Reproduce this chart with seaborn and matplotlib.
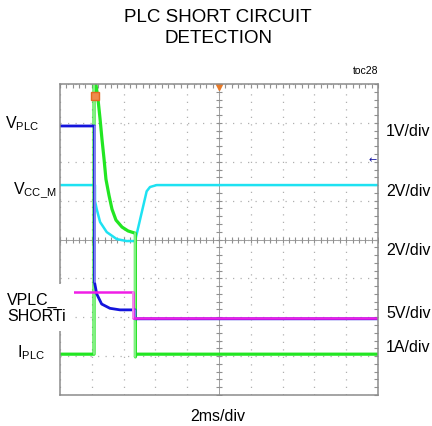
import numpy as np
import matplotlib.pyplot as plt
import seaborn as sns

sns.set_style("white")
plt.rcParams['font.family'] = ['Liberation Sans', 'DejaVu Sans']
plt.rcParams['mathtext.fontset'] = 'custom'
plt.rcParams['mathtext.rm'] = 'Liberation Sans'
plt.rcParams['text.color'] = 'black'

# time in ms (2 ms/div), levels in screen divisions (0 = bottom, 8 = top)
t_vplc = [0, 2.17, 2.17, 2.31, 2.62, 3.14, 3.77, 4.72, 4.72, 20]
v_vplc = [6.92, 6.92, 2.90, 2.60, 2.34, 2.23, 2.19, 2.19, 1.96, 1.96]

t_vccm = [0, 2.20, 2.20, 2.31, 2.52, 2.94, 3.57, 4.19, 4.72, 5.45, 5.66, 6.08, 20]
v_vccm = [5.40, 5.40, 4.99, 4.78, 4.45, 4.19, 4.01, 3.96, 3.96, 5.24, 5.35, 5.40, 5.40]

t_short = [0, 4.62, 4.62, 20]
v_short = [2.65, 2.65, 1.98, 1.98]

t_iplc = [0, 2.14, 2.14, 2.20, 2.26, 2.39, 2.52, 2.64, 2.77, 2.89, 3.08, 3.27,
          3.52, 3.90, 4.28, 4.74, 4.74, 4.78, 20]
v_iplc = [1.05, 1.05, 8.4, 8.4, 7.99, 7.61, 7.10, 6.58, 6.07, 5.55, 5.14, 4.78,
          4.50, 4.32, 4.22, 4.16, 0.98, 1.05, 1.05]

fig = plt.figure(figsize=(4.32, 4.27), dpi=100)
ax = fig.add_axes([60 / 432, 31 / 427, 318 / 432, 311 / 427])

# scope graticule
ax.set_xlim(0, 20)
ax.set_ylim(0, 8)
ax.set_xticks(np.arange(0, 20.1, 2))
ax.set_yticks(np.arange(0, 8.1, 1))
ax.set_xticks(np.arange(0, 20.1, 0.4), minor=True)
ax.set_yticks(np.arange(0, 8.01, 0.2), minor=True)
ax.tick_params(which='both', direction='in', length=3, width=0.8, color='#909090',
               top=True, right=True, labelbottom=False, labelleft=False)
ax.grid(True, which='major', color='#b0b0b0', lw=0.9, ls=(0, (1, 5)))
for s in ax.spines.values():
    s.set_color('#8c8c8c')
    s.set_linewidth(1.1)
ax.axvline(10, color='#a0a0a0', lw=0.7)
ax.axhline(4, color='#a0a0a0', lw=0.7)
cy = np.arange(0, 8.01, 0.2)
cx = np.arange(0, 20.01, 0.4)
ax.plot(np.full(len(cy), 10), cy, ls='none', marker='_', ms=5, mew=0.8, color='#909090')
ax.plot(cx, np.full(len(cx), 4), ls='none', marker='|', ms=5, mew=0.8, color='#909090')


def trace(t, v, color, edge, lw):
    sns.lineplot(x=t, y=v, sort=False, estimator=None, color=color, lw=lw, ax=ax)
    for i in range(len(t) - 1):
        if t[i] == t[i + 1]:
            ax.plot([t[i], t[i]], [v[i], v[i + 1]], color=edge, lw=1.3)


trace(t_vccm, v_vccm, '#1ee2f2', '#8aeef8', 1.8)
trace(t_iplc, v_iplc, '#22e622', '#8cf08c', 2.3)
trace(t_vplc, v_vplc, '#1414dc', '#8c8cf4', 2.0)
trace(t_short, v_short, '#f01ee6', '#f490ee', 1.8)

# scope markers
ax.plot([2.17], [7.69], marker='s', ms=6, color='#f08a4a', mec='#e06a20', clip_on=False)
ax.plot([10], [7.93], marker='v', ms=5, color='#e87a28', clip_on=False)
fig.text(373 / 432, 1 - 160 / 427, '←', fontsize=7, color='#1414a0',
         family='DejaVu Sans', ha='center', va='center')


def px(x, y):
    return x / 432, 1 - y / 427


fig.text(*px(218, 22), 'PLC SHORT CIRCUIT', fontsize=13.5, ha='center', va='baseline')
fig.text(*px(218, 43), 'DETECTION', fontsize=13.5, ha='center', va='baseline')
fig.text(*px(353, 74), 'toc28', fontsize=7.5, ha='left', va='baseline')

lab = 11.5
fig.text(*px(5, 128), r'V$_{\mathrm{PLC}}$', fontsize=lab, va='baseline')
fig.text(*px(13, 193), r'V$_{\mathrm{CC\_M}}$', fontsize=lab, va='baseline')
fig.text(*px(7, 321), 'VPLC_\nSHORTi', fontsize=lab, va='baseline', linespacing=1.05,
         bbox=dict(boxstyle='square,pad=0.5', facecolor='white', edgecolor='none'))
fig.text(*px(17, 357), r'I$_{\mathrm{PLC}}$', fontsize=lab, va='baseline')

for y, s in [(132, '1V/div'), (192, '2V/div'), (251, '2V/div'),
             (314, '5V/div'), (348, '1A/div')]:
    fig.text(*px(386, y), s, fontsize=lab, va='center')
fig.text(*px(218, 417), '2ms/div', fontsize=lab, ha='center', va='center')

fig.savefig('out.png', dpi=100)
